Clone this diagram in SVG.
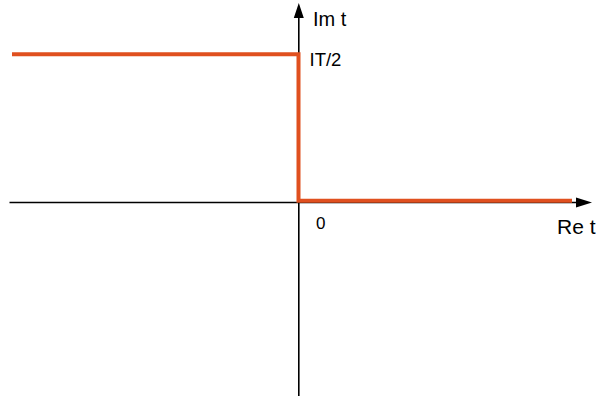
<svg xmlns="http://www.w3.org/2000/svg" width="596" height="398" viewBox="0 0 596 398">
<style>
.axis{stroke:#000;stroke-width:1.6;fill:none}
.path{stroke:#E0501F;stroke-width:4;fill:none;stroke-linejoin:miter}
text{font-family:"Liberation Sans",Arial,sans-serif;fill:#000}
</style>
<rect width="596" height="398" fill="#fff"/>
<g id="connectors">
<line class="axis" x1="9.5" y1="202.5" x2="578" y2="202.5"/>
<polygon points="592,202.5 576,197.5 576,207.5" fill="#000"/>
<line class="axis" x1="298.8" y1="396" x2="298.8" y2="16"/>
<polygon points="298.8,3 293.8,18 303.8,18" fill="#000"/>
<polyline class="path" points="12,54.3 298.5,54.3 298.5,200.8 572,200.8"/>
</g>
<g id="labels">
<text x="316" y="229" font-size="17">0</text>
<text x="313" y="25.5" font-size="20">Im t</text>
<text x="309.5" y="65.7" font-size="18.5">IT/2</text>
<text x="557" y="233.5" font-size="21">Re t</text>
</g>
</svg>
